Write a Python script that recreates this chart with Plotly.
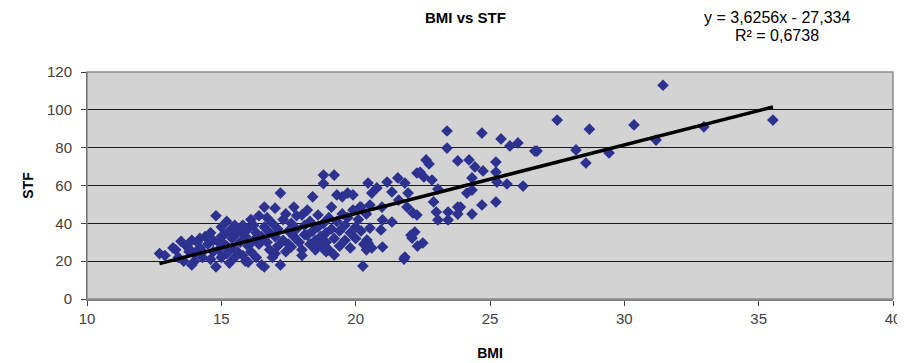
import plotly.graph_objects as go

# ---- data ----
bmi = [
    12.7, 12.9, 13.3, 13.5, 13.4, 13.2, 13.6, 13.8,
    13.7, 13.9, 14.0, 14.1, 14.2, 14.3, 14.0, 14.4, 14.5, 14.3, 13.9, 14.6, 14.2, 13.8,
    14.6, 14.7, 14.8, 14.8, 14.9, 15.0, 15.0, 15.1, 15.1, 15.2, 15.2, 15.3, 15.3, 15.4, 15.4, 15.5, 15.5, 14.9, 15.0, 15.2, 14.7,
    15.6, 15.6, 15.7, 15.8, 15.8, 15.9, 15.9, 16.0, 16.0, 16.1, 16.1, 16.2, 16.2, 16.3, 16.3, 16.4, 16.4, 16.5, 16.5, 16.0, 15.7,
    16.6, 16.6, 16.7, 16.7, 16.8, 16.8, 16.9, 16.9, 17.0, 17.0, 17.1, 17.1, 17.2, 17.2, 17.3, 17.3, 17.4, 17.4, 17.5, 17.5, 16.6, 17.0,
    17.6, 17.6, 17.7, 17.7, 17.8, 17.8, 17.9, 18.0, 18.0, 18.1, 18.1, 18.2, 18.2, 18.3, 18.3, 18.4, 18.4, 18.5, 18.5, 18.0,
    18.6, 18.6, 18.7, 18.7, 18.8, 18.8, 18.8, 18.9, 18.9, 19.0, 19.0, 19.1, 19.1, 19.2, 19.2, 19.2, 19.3, 19.3, 19.4, 19.4, 19.5, 19.5, 18.9,
    19.6, 19.6, 19.7, 19.7, 19.8, 19.8, 19.9, 19.9, 20.0, 20.0, 20.1, 20.2, 20.2, 20.3, 20.4, 20.4,
    20.46, 20.79, 20.6, 21.17, 21.57, 21.83, 21.35, 21.95, 21.6, 21.91, 22.13, 22.28, 20.53, 20.16, 20.98,
    21.0, 21.35, 20.53, 20.94, 20.42, 20.6, 21.0, 20.46, 22.06, 22.1, 21.83, 21.8, 20.27,
    22.62, 22.73, 22.4, 22.54, 22.84, 23.8, 24.22, 24.44, 24.74, 25.22, 25.22, 25.26, 25.63, 26.23,
    24.33, 24.33, 24.14, 23.06, 22.9, 23.0, 23.06, 23.44, 23.44, 23.8, 23.9, 23.8, 24.33, 24.7, 25.22,
    22.28, 22.2, 22.3, 22.5,
    23.4, 23.4, 24.7, 25.41, 25.74, 26.04, 26.67,
    26.75, 27.5, 28.2, 28.57, 28.7, 29.43, 30.36, 31.44, 31.18, 32.96, 35.53,
]
stf = [
    24, 23, 26, 30.5, 22, 27, 20, 25,
    28, 31, 24, 30, 27, 22, 20, 33, 29, 25, 18, 21, 32, 26.5,
    35, 31, 44, 17, 26, 38, 22, 34, 29, 41, 24, 36, 19, 32, 27, 39, 22, 30, 33, 28, 25,
    35, 25, 30, 39, 23, 33, 20, 37, 28, 42, 25, 39, 31, 35, 22, 29, 44, 33, 18, 19.5, 36,
    48.6, 38, 43, 30, 35, 26, 40, 22, 33, 48, 28, 37, 56, 18, 42, 31, 25, 45, 36, 29, 17, 24,
    40, 27.5, 48.6, 33, 44, 37, 30, 44.4, 26, 39, 34, 33.8, 47, 29, 41, 54, 36, 31, 26, 23,
    44.4, 38, 33, 28, 65.5, 61, 40, 35, 30, 43, 26, 37, 48.6, 65.5, 23.3, 32, 55, 41, 28, 36, 54, 45, 25,
    39, 31, 56, 43, 35, 27, 55, 47, 38, 32, 42, 48.6, 36, 29, 45, 26,
    61.3, 58.7, 56, 61.8, 64, 61.3, 56.6, 56, 52.3, 48.6, 45.5, 66.6, 49.7, 48.6, 48.6,
    41.8, 40.7, 37.5, 36.5, 31.2, 27, 27.5, 29.6, 33.8, 32.2, 22.2, 21.1, 17.4,
    73.5, 71.4, 67, 64.5, 62.9, 73, 73.5, 69.8, 67.7, 72.4, 67.1, 61.8, 60.8, 59.7,
    64, 57.6, 56, 58.1, 51.3, 46, 41.8, 46, 41.8, 48.6, 48.6, 44.9, 44.9, 49.7, 51.3,
    44.4, 35.4, 28, 29.6,
    88.8, 79.8, 87.7, 84.6, 80.9, 82.5, 78.2,
    78.2, 94.6, 78.8, 71.9, 89.8, 77.2, 92.0, 113, 84, 91, 94.6,
]

# trendline as printed on the chart
slope = 3.6256
intercept = -27.334
r_squared = 0.6738

x_ticks = [10, 15, 20, 25, 30, 35, 40]
y_ticks = [0, 20, 40, 60, 80, 100, 120]

FONT = "Arial, Liberation Sans, sans-serif"

x_line = [min(bmi), max(bmi)]
y_line = [slope * v + intercept for v in x_line]

fig = go.Figure()
fig.add_trace(go.Scatter(
    x=bmi, y=stf, mode="markers",
    marker=dict(symbol="diamond", size=9, color="#2D3190", line=dict(width=0)),
    showlegend=False, hoverinfo="x+y",
))
fig.add_trace(go.Scatter(
    x=x_line, y=y_line, mode="lines",
    line=dict(color="black", width=3.5),
    showlegend=False, hoverinfo="skip",
))

def fmt(v, d):
    return f"{v:.{d}f}".replace(".", ",")

eq_line1 = f"y = {fmt(slope, 4)}x - {fmt(-intercept, 3)}"
eq_line2 = f"R² = {fmt(r_squared, 4)}"

fig.update_layout(
    width=897, height=355,
    margin=dict(l=79, r=12, t=64, b=64),
    paper_bgcolor="white",
    plot_bgcolor="#D3D3D3",
    font=dict(family=FONT, size=15, color="#404040"),
    xaxis=dict(
        range=[10, 40], tickvals=x_ticks, ticktext=[str(v) for v in x_ticks],
        showgrid=False, zeroline=False, automargin=False,
        showline=True, linecolor="#808080", linewidth=2,
        ticks="outside", ticklen=5, tickcolor="#404040",
        title=dict(text="<b>BMI</b>", font=dict(family=FONT, size=14, color="black"), standoff=22),
    ),
    yaxis=dict(
        range=[0, 120], tickvals=y_ticks, ticktext=[str(v) for v in y_ticks],
        showgrid=True, gridcolor="#1a1a1a", gridwidth=1, zeroline=False, automargin=False,
        showline=True, linecolor="#202020", linewidth=1,
        ticks="outside", ticklen=5, tickcolor="#404040", ticklabelstandoff=6,
        title=dict(text="<b>STF</b>", font=dict(family=FONT, size=14, color="black"), standoff=10),
    ),
    shapes=[dict(type="rect", xref="x domain", yref="y domain", x0=0, x1=1, y0=0, y1=1,
                 line=dict(color="#8c8c8c", width=1.5), layer="above")],
    annotations=[
        dict(text="<b>BMI vs STF</b>", xref="paper", yref="paper", x=0.47, y=1.0, yshift=55,
             showarrow=False, xanchor="center", yanchor="middle",
             font=dict(family=FONT, size=15, color="black")),
        dict(text=eq_line1, xref="paper", yref="paper", x=0.856, y=1.0, yshift=55,
             showarrow=False, xanchor="center", yanchor="middle",
             font=dict(family=FONT, size=16, color="black")),
        dict(text=eq_line2, xref="paper", yref="paper", x=0.856, y=1.0, yshift=37,
             showarrow=False, xanchor="center", yanchor="middle",
             font=dict(family=FONT, size=16, color="black")),
    ],
)

fig.write_html("out.html")
